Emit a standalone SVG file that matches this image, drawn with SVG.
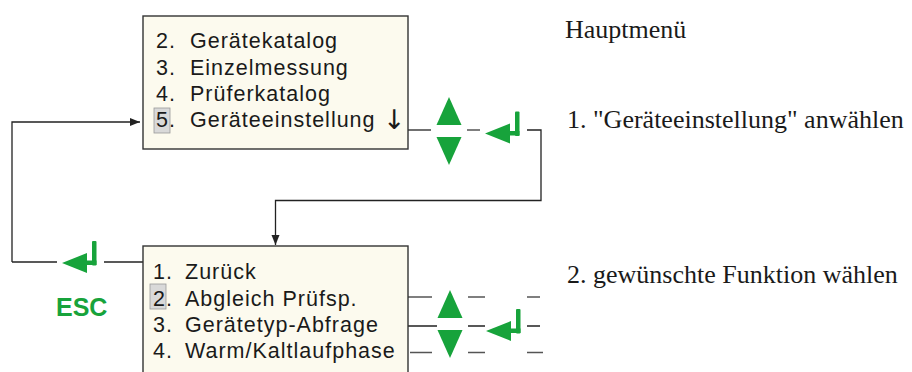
<svg xmlns="http://www.w3.org/2000/svg" width="912" height="372" viewBox="0 0 912 372">
<defs>
<style>
.box{fill:#fcfaee;stroke:#333;stroke-width:1.4}
.mt{font-family:"Liberation Sans",Arial,sans-serif;font-size:21.5px;letter-spacing:1px;fill:#1a1a1a}
.ar{font-family:"DejaVu Sans",sans-serif;font-size:27px;letter-spacing:0;fill:#1a1a1a}
.rt{font-family:"Liberation Serif","Times New Roman",serif;font-size:26px;fill:#1a1a1a}
.hl{fill:#d9d9d9;stroke:#999;stroke-width:0.8}
.ln{fill:none;stroke:#222;stroke-width:1.3}
.dl{fill:none;stroke:#555;stroke-width:1.5}
.g{fill:#17a33b}
.esc{font-family:"Liberation Sans",Arial,sans-serif;font-size:25px;font-weight:bold;fill:#17a33b}
</style>
<marker id="ah" markerWidth="10" markerHeight="10" refX="10" refY="5" orient="auto" markerUnits="userSpaceOnUse">
<path d="M0,1 L10,5 L0,9 Z" fill="#222"/>
</marker>
<g id="enter">
<path d="M0,0 L25,-10 L25,10 Z"/>
<rect x="23" y="-2.5" width="11.5" height="4.5"/>
<rect x="30" y="-22" width="4.5" height="24.5" rx="1"/>
</g>
<g id="updown">
<path d="M0,-34 L12.5,-6 L-12.5,-6 Z"/>
<path d="M0,34 L12.5,6 L-12.5,6 Z"/>
</g>
</defs>
<rect width="912" height="372" fill="#fff"/>

<g id="connectors">
<path class="ln" d="M12,262 V122 H140" marker-end="url(#ah)"/>
<path class="ln" d="M12,262 H57"/>
<path class="ln" d="M104,262 H143"/>
<path class="ln" d="M408,130 H431"/>
<path class="dl" d="M467,130 H480"/>
<path class="ln" d="M527,130 H541 V200.5 H275.5 V245" marker-end="url(#ah)"/>
<path class="dl" d="M408,297 H432 M468,297 H485 M527,297 H540"/>
<path class="ln" d="M408,326 H437 M468,326 H485 M527,326 H540"/>
<path class="dl" d="M410,352.5 H432 M468,352.5 H485 M527,352.5 H543"/>
</g>

<g id="main-menu">
<rect class="box" x="143" y="16" width="265" height="133"/>
<rect class="hl" x="154" y="108" width="16" height="25"/>
<text class="mt" x="156" y="48">2.</text><text class="mt" x="190" y="48">Gerätekatalog</text>
<text class="mt" x="156" y="75">3.</text><text class="mt" x="190" y="75">Einzelmessung</text>
<text class="mt" x="156" y="101">4.</text><text class="mt" x="190" y="101">Prüferkatalog</text>
<text class="mt" x="156" y="127">5.</text><text class="mt" x="190" y="127">Geräteeinstellung <tspan class="ar" x="383" y="129">↓</tspan></text>
</g>

<g id="sub-menu">
<rect class="box" x="143" y="246" width="265" height="140"/>
<rect class="hl" x="150" y="284" width="16" height="25"/>
<text class="mt" x="153" y="279">1.</text><text class="mt" x="185" y="279">Zurück</text>
<text class="mt" x="153" y="306">2.</text><text class="mt" x="185" y="306">Abgleich Prüfsp.</text>
<text class="mt" x="153" y="332">3.</text><text class="mt" x="185" y="332">Gerätetyp-Abfrage</text>
<text class="mt" x="153" y="358">4.</text><text class="mt" x="185" y="358">Warm/Kaltlaufphase</text>
</g>

<g id="keys-top" class="g">
<use href="#updown" x="449" y="131"/>
<use href="#enter" x="485" y="133.5"/>
</g>
<g id="keys-bottom" class="g">
<use href="#updown" x="450" y="324"/>
<use href="#enter" x="486" y="331"/>
</g>
<g id="esc-key">
<use class="g" href="#enter" x="62" y="263"/>
<text class="esc" x="56" y="316">ESC</text>
</g>

<g id="labels">
<text class="rt" x="565" y="38">Hauptmenü</text>
<text class="rt" x="567" y="128">1. "Geräteeinstellung" anwählen</text>
<text class="rt" x="567" y="283">2. gewünschte Funktion wählen</text>
</g>
</svg>
